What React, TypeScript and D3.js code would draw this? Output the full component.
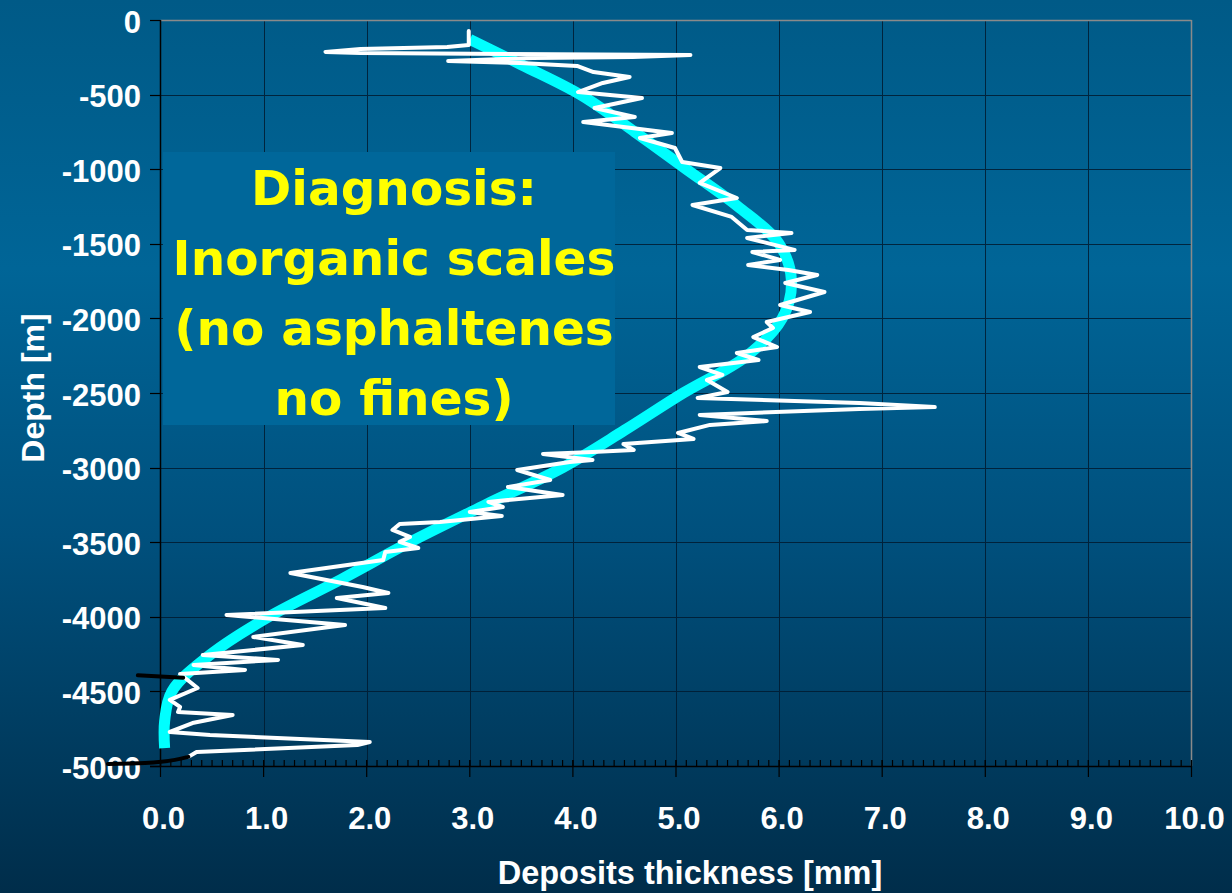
import React from "react";
import * as d3 from "d3";

const xTicks = [0, 1, 2, 3, 4, 5, 6, 7, 8, 9, 10];
const yTicks = [0, -500, -1000, -1500, -2000, -2500, -3000, -3500, -4000, -4500, -5000];

const boxLines = ["Diagnosis:", "Inorganic scales", "(no asphaltenes", "no fines)"];

// smooth model curve (cyan)
const modelThickness = [3.0, 3.5, 4.07, 4.6, 5.1, 5.6, 6.0, 6.12, 6.03, 5.69, 5.07, 4.5, 3.9, 3.15, 2.42, 1.75, 1.05, 0.49, 0.11, 0.04, 0.04];
const modelDepth = [-130, -300, -500, -750, -1000, -1250, -1500, -1750, -2000, -2250, -2500, -2750, -3000, -3250, -3500, -3750, -4000, -4250, -4500, -4700, -4880];

// measured log (white)
const logThickness = [
  2.99, 2.99, 2.78, 1.94, 1.6, 1.94, 5.14, 4.58, 3.61, 2.79, 3.49, 4.04, 4.2, 4.55, 4.29, 4.05, 4.67, 4.21, 4.6, 4.1,
  4.96, 4.65, 4.99, 5.06, 5.43, 5.23, 5.59, 5.16, 5.54, 5.69, 6.12, 5.69, 6.15, 5.74, 6.01, 5.7, 6.09, 6.37, 6.06, 6.44,
  6.01, 6.3, 5.88, 5.94, 5.75, 5.98, 5.59, 5.8, 5.23, 5.45, 5.3, 5.5, 5.21, 6.78, 7.51, 6.78, 5.23, 5.88, 5.33, 5.02,
  5.17, 4.49, 4.59, 4.19, 3.71, 4.19, 3.97, 3.46, 3.78, 3.37, 3.9, 3.18, 3.32, 3.0, 3.31, 2.71, 2.32, 2.25, 2.42, 2.32,
  2.5, 2.18, 2.16, 1.26, 1.96, 2.21, 1.71, 2.18, 0.64, 1.79, 0.9, 1.38, 0.41, 1.14, 0.32, 0.82, 0.19, 0.36, 0.09, 0.19,
  0.17, 0.7, 0.31, 0.09, 0.48, 2.03, 1.91, 0.35, 0.27,
];
const logDepth = [
  -74, -168, -181, -194, -214, -221, -235, -248, -255, -275, -288, -308, -349, -382, -422, -483, -523, -590, -650, -684,
  -757, -791, -858, -952, -992, -1092, -1193, -1240, -1320, -1407, -1428, -1461, -1541, -1555, -1608, -1642, -1676, -1709, -1763, -1823,
  -1910, -1957, -2024, -2064, -2125, -2192, -2232, -2279, -2326, -2379, -2413, -2493, -2533, -2567, -2594, -2607, -2647, -2688, -2714, -2768,
  -2808, -2842, -2882, -2895, -2909, -2949, -2962, -3016, -3083, -3130, -3183, -3230, -3264, -3297, -3324, -3364, -3378, -3418, -3465, -3498,
  -3539, -3566, -3619, -3706, -3800, -3840, -3874, -3941, -3988, -4055, -4135, -4189, -4256, -4289, -4323, -4356, -4383, -4477, -4557, -4604,
  -4638, -4658, -4712, -4772, -4792, -4839, -4859, -4906, -4939,
];

// black log segments
const blackTopThickness = [-0.22, 0.0, 0.22];
const blackTopDepth = [-4392, -4400, -4408];
const blackBottomThickness = [0.27, 0.14, -0.15, -0.51];
const blackBottomDepth = [-4939, -4959, -4980, -4986];

const W = 1232;
const H = 893;

export default function App() {
  const x = d3.scaleLinear().domain([0, 10]).range([160.5, 1191.5]);
  const y = d3.scaleLinear().domain([0, -5000]).range([20, 766]);

  const line = d3
    .line<[number, number]>()
    .x((d) => x(d[0]))
    .y((d) => y(d[1]));
  const smooth = d3
    .line<[number, number]>()
    .x((d) => x(d[0]))
    .y((d) => y(d[1]))
    .curve(d3.curveCatmullRom.alpha(0.5));

  const zip = (a: number[], b: number[]) => a.map((v, i) => [v, b[i]] as [number, number]);

  const minor = d3.range(0, 101).map((i) => i / 10);

  const x0 = x(0);
  const x1 = x(10);
  const yTop = y(0);
  const yBot = y(-5000);

  const tickFont = "'Liberation Sans', Arial, sans-serif";

  return (
    <svg
      width={W}
      height={H}
      style={{ position: "absolute", left: 0, top: 0, display: "block" }}
      xmlns="http://www.w3.org/2000/svg"
    >
      <defs>
        <linearGradient id="bg" x1="0" y1="0" x2="0" y2="1">
          <stop offset="0" stopColor="#005a87" />
          <stop offset="0.3" stopColor="#006597" />
          <stop offset="0.6" stopColor="#00507d" />
          <stop offset="1" stopColor="#002d4a" />
        </linearGradient>
      </defs>
      <rect x={0} y={0} width={W} height={H} fill="url(#bg)" />

      {/* grid */}
      <g stroke="#001b30" strokeWidth={1} opacity={0.85}>
        {yTicks
          .filter((t) => t !== 0 && t !== -5000)
          .map((t) => (
            <line key={"gy" + t} x1={x0} x2={x1} y1={Math.round(y(t)) + 0.5} y2={Math.round(y(t)) + 0.5} />
          ))}
        {xTicks
          .filter((t) => t !== 0 && t !== 10)
          .map((t) => (
            <line key={"gx" + t} x1={Math.round(x(t)) + 0.5} x2={Math.round(x(t)) + 0.5} y1={yTop} y2={yBot} />
          ))}
      </g>

      {/* plot frame top/right */}
      <line x1={x0} x2={x1} y1={yTop + 0.5} y2={yTop + 0.5} stroke="#8a8a8a" strokeWidth={1.5} />
      <line x1={x1} x2={x1} y1={yTop} y2={yBot} stroke="#8a8a8a" strokeWidth={1.5} />

      {/* text box */}
      <rect x={163} y={152} width={452} height={273} fill="#00679a" />
      <g
        fill="#ffff00"
        fontFamily="'DejaVu Sans', Verdana, sans-serif"
        fontWeight="bold"
        fontSize={48.5}
        textAnchor="middle"
      >
        {boxLines.map((t, i) => (
          <text key={t} x={394} y={205 + i * 70}>
            {t}
          </text>
        ))}
      </g>

      {/* axes */}
      <line x1={x0} x2={x0} y1={yTop} y2={yBot} stroke="#000" strokeWidth={1.5} />
      <line x1={150} x2={x1} y1={yBot + 0.5} y2={yBot + 0.5} stroke="#000" strokeWidth={1.5} />
      <g stroke="#000" strokeWidth={1.2}>
        {yTicks.map((t) => (
          <line key={"ty" + t} x1={150} x2={x0} y1={Math.round(y(t)) + 0.5} y2={Math.round(y(t)) + 0.5} />
        ))}
        {xTicks.map((t) => (
          <line key={"tx" + t} x1={x(t)} x2={x(t)} y1={yBot - 6} y2={yBot + 11} />
        ))}
        {minor.map((t) => (
          <line key={"tm" + t} x1={x(t)} x2={x(t)} y1={yBot - 6} y2={yBot} />
        ))}
      </g>

      {/* tick labels */}
      <g fill="#fff" fontFamily={tickFont} fontWeight="bold" fontSize={31}>
        {yTicks.map((t) => (
          <text key={"ly" + t} x={141} y={y(t) + 12.5} textAnchor="end">
            {t}
          </text>
        ))}
        {xTicks.map((t) => (
          <text key={"lx" + t} x={x(t) + 3} y={829} textAnchor="middle">
            {t.toFixed(1)}
          </text>
        ))}
      </g>

      {/* axis titles */}
      <text
        x={0}
        y={0}
        transform="translate(44,388) rotate(-90)"
        fill="#fff"
        fontFamily={tickFont}
        fontWeight="bold"
        fontSize={32}
        textAnchor="middle"
      >
        Depth [m]
      </text>
      <text x={690} y={884} fill="#fff" fontFamily={tickFont} fontWeight="bold" fontSize={32.5} textAnchor="middle">
        Deposits thickness [mm]
      </text>

      {/* model curve */}
      <path d={smooth(zip(modelThickness, modelDepth)) || ""} fill="none" stroke="#00ffff" strokeWidth={11} />

      {/* measured log */}
      <path
        d={line(zip(logThickness, logDepth)) || ""}
        fill="none"
        stroke="#ffffff"
        strokeWidth={4}
        strokeLinejoin="round"
        strokeLinecap="round"
      />
      <path
        d={line(zip(blackTopThickness, blackTopDepth)) || ""}
        fill="none"
        stroke="#000"
        strokeWidth={4}
        strokeLinecap="round"
      />
      <path
        d={smooth(zip(blackBottomThickness, blackBottomDepth)) || ""}
        fill="none"
        stroke="#000"
        strokeWidth={4}
        strokeLinecap="round"
      />
    </svg>
  );
}
